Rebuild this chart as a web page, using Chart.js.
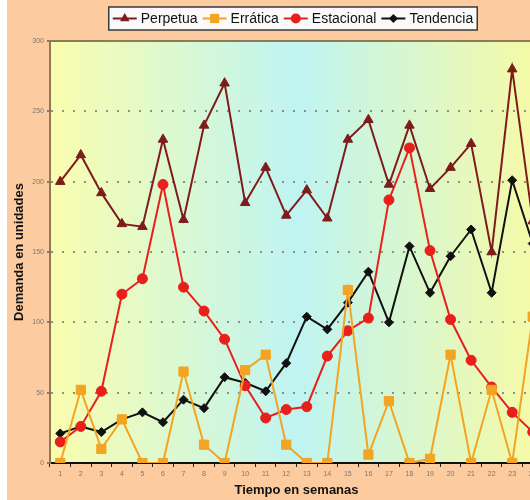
<!DOCTYPE html>
<html>
<head>
<meta charset="utf-8">
<title>Demanda en unidades</title>
<script src="https://cdn.jsdelivr.net/npm/chart.js@4.4.0/dist/chart.umd.min.js"></script>
<style>
    html, body { margin: 0; padding: 0; background: #fff; width: 530px; height: 500px; overflow: hidden; }
    #wrap { position: absolute; left: 7px; top: 0; width: 553px; height: 500px; background: #FCCBA0; }
</style>
</head>
<body>
<div id="wrap"><canvas id="demandChart" width="553" height="500"></canvas></div>
<script>
// Weeks and series
const weeks = ['1', '2', '3', '4', '5', '6', '7', '8', '9', '10', '11', '12',
               '13', '14', '15', '16', '17', '18', '19', '20', '21', '22', '23', '24'];
const perpetua   = [200, 219, 192, 170, 168, 230, 173, 240, 270, 185, 210, 176, 194, 174, 230, 244, 198, 240, 195, 210, 227, 150, 280, 172];
const erratica   = [0, 52, 10, 31, 0, 0, 65, 13, 0, 66, 77, 13, 0, 0, 123, 6, 44, 0, 3, 77, 0, 52, 0, 104];
const estacional = [15, 26, 51, 120, 131, 198, 125, 108, 88, 55, 32, 38, 40, 76, 94, 103, 187, 224, 151, 102, 73, 54, 36, 22];
const tendencia  = [21, 26, 22, 31, 36, 29, 45, 39, 61, 57, 51, 71, 104, 95, 114, 136, 100, 154, 121, 147, 166, 121, 201, 156];
const yTicks = [0, 50, 100, 150, 200, 250, 300];

const FONT = 'Liberation Sans, Arial, sans-serif';

const series = [
    { label: 'Perpetua',   data: perpetua,   color: '#7E1C1C', style: 'triangle', radius: 5.5 },
    { label: 'Errática',   data: erratica,   color: '#F2A422', style: 'rect',     radius: 6.5 },
    { label: 'Estacional', data: estacional, color: '#E8201C', style: 'circle',   radius: 5 },
    { label: 'Tendencia',  data: tendencia,  color: '#111111', style: 'rectRot',  radius: 4.5 }
];

// Draw a marker like the chart points (used by the legend)
function drawMarker(ctx, style, x, y, r) {
    ctx.beginPath();
    if (style === 'circle') {
        ctx.arc(x, y, r, 0, Math.PI * 2);
    } else if (style === 'rect') {
        const s = r * Math.SQRT1_2;
        ctx.rect(x - s, y - s, 2 * s, 2 * s);
    } else if (style === 'rectRot') {
        ctx.moveTo(x, y - r);
        ctx.lineTo(x + r, y);
        ctx.lineTo(x, y + r);
        ctx.lineTo(x - r, y);
        ctx.closePath();
    } else {
        const h = Math.PI * 2 / 3;
        ctx.moveTo(x, y - r);
        ctx.lineTo(x + Math.sin(h) * r, y - Math.cos(h) * r);
        ctx.lineTo(x + Math.sin(2 * h) * r, y - Math.cos(2 * h) * r);
        ctx.closePath();
    }
    ctx.fill();
}

// Yellow-cyan-yellow plot background and top frame line
const plotBackground = {
    id: 'plotBackground',
    beforeDraw(chart) {
        const { ctx, chartArea: a } = chart;
        const g = ctx.createLinearGradient(a.left, 0, a.right, 0);
        g.addColorStop(0, '#FAFDAE');
        g.addColorStop(0.5, '#BFF4F2');
        g.addColorStop(1, '#F7FAA4');
        ctx.save();
        ctx.fillStyle = g;
        ctx.fillRect(a.left, a.top, a.right - a.left, a.bottom - a.top);
        ctx.restore();
    },
    afterDraw(chart) {
        const { ctx, chartArea: a } = chart;
        ctx.save();
        ctx.strokeStyle = '#8C7B55';
        ctx.lineWidth = 2;
        ctx.beginPath();
        ctx.moveTo(a.left - 1, a.top);
        ctx.lineTo(a.right + 1, a.top);
        ctx.lineTo(a.right, a.bottom);
        ctx.stroke();
        ctx.restore();
    }
};

// Boxed legend at the top
const boxLegend = {
    id: 'boxLegend',
    afterDraw(chart) {
        const ctx = chart.ctx;
        ctx.save();
        ctx.font = '14px ' + FONT;
        const lineLen = 24, gapText = 4, gapItem = 5, pad = 4;
        let total = pad * 2;
        series.forEach((s, i) => {
            total += lineLen + gapText + ctx.measureText(s.label).width;
            if (i < series.length - 1) total += gapItem;
        });
        const cx = 286, top = 7, h = 23;
        const left = cx - total / 2;
        ctx.fillStyle = '#FAFAFA';
        ctx.fillRect(left, top, total, h);
        ctx.strokeStyle = '#3A3A3A';
        ctx.lineWidth = 1.5;
        ctx.strokeRect(left, top, total, h);

        const my = top + h / 2;
        let x = left + pad;
        series.forEach(s => {
            ctx.strokeStyle = s.color;
            ctx.fillStyle = s.color;
            ctx.lineWidth = 2;
            ctx.beginPath();
            ctx.moveTo(x, my);
            ctx.lineTo(x + lineLen, my);
            ctx.stroke();
            drawMarker(ctx, s.style, x + lineLen / 2, my, s.radius);
            x += lineLen + gapText;
            ctx.fillStyle = '#111';
            ctx.textBaseline = 'middle';
            ctx.fillText(s.label, x, my + 1);
            x += ctx.measureText(s.label).width + gapItem;
        });
        ctx.restore();
    }
};

const ctx = document.getElementById('demandChart');

new Chart(ctx, {
    type: 'line',
    data: {
        labels: weeks,
        datasets: series.map(s => ({
            label: s.label,
            data: s.data,
            borderColor: s.color,
            backgroundColor: s.color,
            pointBackgroundColor: s.color,
            pointBorderColor: s.color,
            pointStyle: s.style,
            pointRadius: s.radius,
            pointBorderWidth: 1,
            borderWidth: 2,
            tension: 0,
            fill: false
        }))
    },
    options: {
        responsive: false,
        animation: false,
        devicePixelRatio: 1,
        layout: {
            padding: { top: 41, right: 17, bottom: 2, left: 0 }
        },
        plugins: {
            legend: { display: false },
            tooltip: { enabled: false }
        },
        scales: {
            x: {
                offset: true,
                grid: {
                    drawOnChartArea: false,
                    tickColor: '#222',
                    tickLength: 4,
                    offset: true
                },
                border: { color: '#111', width: 2 },
                ticks: {
                    color: '#777',
                    font: { size: 7, family: FONT },
                    padding: 3,
                    maxRotation: 0,
                    autoSkip: false
                },
                title: {
                    display: true,
                    text: 'Tiempo en semanas',
                    color: '#111',
                    font: { size: 13, weight: 'bold', family: FONT },
                    padding: { top: 0, bottom: 0 }
                },
                afterFit: function(scale) { scale.height = 35; }
            },
            y: {
                min: yTicks[0],
                max: yTicks[yTicks.length - 1],
                afterBuildTicks: function(scale) {
                    scale.ticks = yTicks.map(v => ({ value: v }));
                },
                grid: {
                    color: function(c) {
                        const v = c.tick ? c.tick.value : 0;
                        return (v === 0 || v === 300) ? 'rgba(0,0,0,0)' : '#8E8E84';
                    },
                    lineWidth: 2,
                    tickColor: '#8C7B55',
                    tickLength: 3,
                    tickBorderDash: []
                },
                border: { color: '#8C7B55', width: 2, dash: [2, 9] },
                ticks: {
                    color: '#777',
                    font: { size: 7, family: FONT },
                    padding: 3
                },
                title: {
                    display: true,
                    text: 'Demanda en unidades',
                    color: '#111',
                    font: { size: 13, weight: 'bold', family: FONT },
                    padding: { top: 5, bottom: 0 }
                },
                afterFit: function(scale) { scale.width = 43; }
            }
        }
    },
    plugins: [plotBackground, boxLegend]
});
</script>
</body>
</html>
